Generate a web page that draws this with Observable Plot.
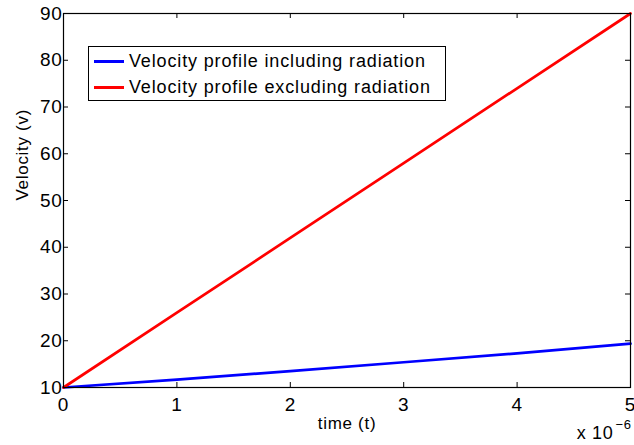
<!DOCTYPE html>
<html>
<head>
<meta charset="utf-8">
<script src="https://cdn.jsdelivr.net/npm/d3@7"></script>
<script src="https://cdn.jsdelivr.net/npm/@observablehq/plot@0.6"></script>
<style>
  body { margin: 0; background: #fff; }
  #wrap { position: relative; width: 634px; height: 445px; font-family: "Liberation Sans", Arial, Helvetica, sans-serif; }
  #wrap svg text { letter-spacing: 0.7px; }
  #legend { position: absolute; left: 88px; top: 46px; width: 356px; height: 53px; border: 1px solid #000; background: #fff; }
  .lrow { position: absolute; left: 0; height: 20px; display: flex; align-items: center; font-size: 18px; letter-spacing: 0.85px; line-height: 20px; color: #000; white-space: nowrap; }
  .lline { width: 30px; height: 3px; margin-left: 5px; margin-right: 5px; }
</style>
</head>
<body>
<div id="wrap"></div>
<script>
// ---- data ----
const time = [0, 1, 2, 3, 4, 5];                       // time (×10^-6)
const velocityIncluding = [10, 11.7, 13.5, 15.4, 17.3, 19.4];
const velocityExcluding = [10, 26, 42, 58, 74, 90];
const seriesNames = ["Velocity profile including radiation", "Velocity profile excluding radiation"];
const seriesColors = ["#0000ff", "#ff0000"];
const xTicks = [0, 1, 2, 3, 4, 5];
const yTicks = [10, 20, 30, 40, 50, 60, 70, 80, 90];
const xLabel = "time (t)";
const yLabel = "Velocity (v)";
const xMultiplier = "x 10";
const xExponent = "\u22126";

// ---- build ----
const W = 634, H = 445, mL = 63, mR = 4, mT = 13, mB = 58;
const innerW = W - mL - mR, innerH = H - mT - mB;
const rows = [];
time.forEach((t, i) => rows.push({t, v: velocityIncluding[i], s: seriesNames[0]}));
time.forEach((t, i) => rows.push({t, v: velocityExcluding[i], s: seriesNames[1]}));

const chart = Plot.plot({
  width: W, height: H,
  marginLeft: mL, marginRight: mR, marginTop: mT, marginBottom: mB,
  style: {fontFamily: '"Liberation Sans", Arial, Helvetica, sans-serif', background: "white", color: "black", overflow: "visible"},
  x: {domain: [0, 5], axis: null},
  y: {domain: [10, 90], axis: null},
  color: {domain: seriesNames, range: seriesColors},
  marks: [
    Plot.line(rows, {x: "t", y: "v", stroke: "s", z: "s", strokeWidth: 2.7}),
    Plot.frame({stroke: "black", strokeWidth: 1.2}),
    Plot.tickX(xTicks, {x: d => d, insetTop: innerH - 5, stroke: "black", strokeWidth: 1}),
    Plot.tickX(xTicks, {x: d => d, insetBottom: innerH - 5, stroke: "black", strokeWidth: 1}),
    Plot.tickY(yTicks, {y: d => d, insetRight: innerW - 5, stroke: "black", strokeWidth: 1}),
    Plot.tickY(yTicks, {y: d => d, insetLeft: innerW - 5, stroke: "black", strokeWidth: 1}),
    Plot.axisX(xTicks, {tickSize: 0, tickPadding: 10, fontSize: 19, label: null, fill: "black", tickFormat: d => String(d)}),
    Plot.axisY(yTicks, {tickSize: 0, tickPadding: 1, fontSize: 19, label: null, fill: "black", tickFormat: d => String(d)}),
    Plot.text([xLabel], {frameAnchor: "bottom", lineAnchor: "bottom", dy: 41, fontSize: 17, fill: "black"}),
    Plot.text([yLabel], {frameAnchor: "left", rotate: -90, dx: -41, fontSize: 17, fill: "black"}),
    Plot.text([xMultiplier], {frameAnchor: "bottom-right", textAnchor: "end", lineAnchor: "bottom", dx: -17, dy: 51, fontSize: 18, fill: "black"}),
    Plot.text([xExponent], {frameAnchor: "bottom-right", textAnchor: "start", lineAnchor: "bottom", dx: -15, dy: 41, fontSize: 13, fill: "black"})
  ]
});
const wrap = document.getElementById("wrap");
wrap.appendChild(chart);

// legend
const legend = document.createElement("div");
legend.id = "legend";
seriesNames.forEach((name, i) => {
  const row = document.createElement("div");
  row.className = "lrow";
  row.style.top = (4 + i * 26) + "px";
  const ln = document.createElement("div");
  ln.className = "lline";
  ln.style.background = seriesColors[i];
  const tx = document.createElement("span");
  tx.textContent = name;
  row.appendChild(ln);
  row.appendChild(tx);
  legend.appendChild(row);
});
wrap.appendChild(legend);
</script>
</body>
</html>
